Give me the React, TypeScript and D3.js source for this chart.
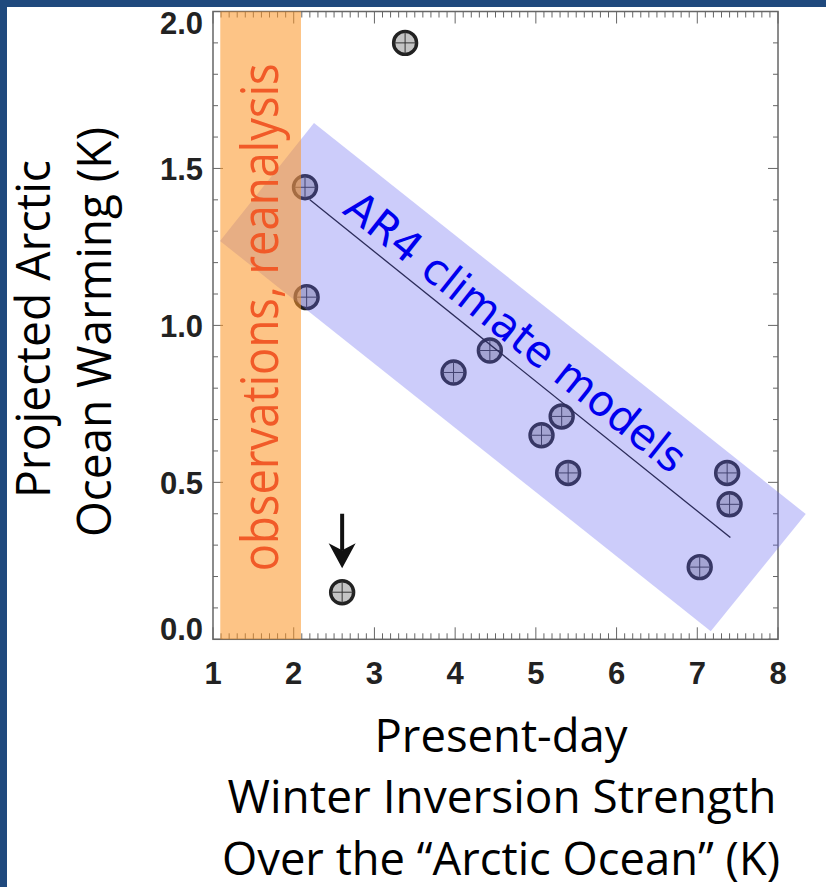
import React from 'react';
import * as d3 from 'd3';

// model points: present-day inversion strength (K) vs projected warming (K)
const inversion = [3.38, 2.14, 2.16, 4.43, 3.98, 5.32, 5.07, 5.40, 7.37, 7.40, 7.03, 2.60];
const warming = [1.90, 1.44, 1.09, 0.92, 0.85, 0.71, 0.65, 0.53, 0.53, 0.43, 0.23, 0.15];

const xTicks = [1, 2, 3, 4, 5, 6, 7, 8];
const yTicks = [0.0, 0.5, 1.0, 1.5, 2.0];

// annotations, in data units
const obsRange = [1.09, 2.09];
const bandX = [2.251, 8.344, 7.167, 1.087];
const bandY = [1.645, 0.399, 0.026, 1.269];
const fitX = [2.20, 7.41];
const fitY = [1.40, 0.324];
const arrowX = 2.60;
const arrowY = [0.40, 0.226];

const W = 826;
const H = 887;
const left = 213, right = 778, top = 11.5, bottom = 639.3;

const sans = '"Open Sans", "Noto Sans", sans-serif';
const tickFont = '"Liberation Sans", Arial, sans-serif';

export default function App() {
  const x = d3.scaleLinear().domain([1, 8]).range([left, right]);
  const y = d3.scaleLinear().domain([0, 2]).range([bottom, top]);

  const xMinor = d3.range(1, 8.001, 0.1);
  const yMinor = d3.range(0, 2.001, 0.1);
  const axisColor = '#666';

  const bandPath = d3.line()(bandX.map((v, i) => [x(v), y(bandY[i])] as [number, number])) + 'Z';

  const angle = (Math.atan2(y(bandY[1]) - y(bandY[0]), x(bandX[1]) - x(bandX[0])) * 180) / Math.PI;

  const ax = x(arrowX);
  const ay0 = y(arrowY[0]);
  const ay1 = y(arrowY[1]);

  return (
    <svg width={W} height={H} style={{ position: 'absolute', left: 0, top: 0, background: '#fff' }}>
      <rect x={0} y={0} width={W} height={7} fill="#1f497d" />
      <rect x={0} y={0} width={7} height={H} fill="#1f497d" />

      {/* frame and ticks */}
      <g stroke={axisColor} strokeWidth={1.5} fill="none">
        <rect x={left} y={top} width={right - left} height={bottom - top} />
        {xMinor.map((t, i) => {
          const major = Math.abs(t - Math.round(t)) < 1e-6;
          const len = major ? 12 : 6;
          return (
            <g key={'xm' + i}>
              <line x1={x(t)} x2={x(t)} y1={bottom} y2={bottom - len} strokeWidth={1} />
              <line x1={x(t)} x2={x(t)} y1={top} y2={top + len} strokeWidth={1} />
            </g>
          );
        })}
        {yMinor.map((t, i) => {
          const major = Math.abs(t * 2 - Math.round(t * 2)) < 1e-6;
          const len = major ? 10 : 5;
          return (
            <g key={'ym' + i}>
              <line x1={left} x2={left + len} y1={y(t)} y2={y(t)} strokeWidth={1} />
              <line x1={right} x2={right - len} y1={y(t)} y2={y(t)} strokeWidth={1} />
            </g>
          );
        })}
      </g>

      {/* tick labels */}
      <g fontFamily={tickFont} fontWeight="bold" fontSize={31} fill="#222">
        {xTicks.map((t) => (
          <text key={'xl' + t} x={x(t)} y={684} textAnchor="middle">{t}</text>
        ))}
        {yTicks.map((t) => {
          const cy = Math.max(top + 11, Math.min(bottom - 10, y(t)));
          return (
            <text key={'yl' + t} x={203} y={cy} dy="0.36em" textAnchor="end">{t.toFixed(1)}</text>
          );
        })}
      </g>

      {/* points */}
      {inversion.map((v, i) => {
        const cx = x(v);
        const cy = y(warming[i]);
        const r = 11.5;
        return (
          <g key={'p' + i}>
            <circle cx={cx} cy={cy} r={r} fill="#c4c4c4" stroke="#222" strokeWidth={3.4} />
            <line x1={cx - r} x2={cx + r} y1={cy} y2={cy} stroke="#333" strokeWidth={1} />
            <line x1={cx} x2={cx} y1={cy - r} y2={cy + r} stroke="#333" strokeWidth={1} />
          </g>
        );
      })}

      {/* fit line */}
      <line x1={x(fitX[0])} y1={y(fitY[0])} x2={x(fitX[1])} y2={y(fitY[1])} stroke="#111" strokeWidth={1.3} />

      {/* model band */}
      <path d={bandPath} fill="rgb(100,100,240)" fillOpacity={0.33} />

      {/* observation band */}
      <rect x={x(obsRange[0])} y={top} width={x(obsRange[1]) - x(obsRange[0])} height={bottom - top}
        fill="rgb(251,150,40)" fillOpacity={0.56} />

      <text x={0} y={0} transform={`translate(${x(1.80)},${y(1.026)}) rotate(-90)`}
        textAnchor="middle" fontFamily={sans} fontSize={52} fill="#f15a28"
        textLength={508} lengthAdjust="spacingAndGlyphs">observations, reanalysis</text>

      <text x={0} y={0} transform={`translate(${x(4.635)},${y(0.942)}) rotate(${angle})`}
        textAnchor="middle" fontFamily='"DejaVu Sans", Verdana, sans-serif' fontSize={43} fill="#0000ee"
        textLength={422} lengthAdjust="spacingAndGlyphs">AR4 climate models</text>

      {/* arrow marking the outlier */}
      <line x1={ax} x2={ax} y1={ay0} y2={ay1 - 18} stroke="#111" strokeWidth={4} />
      <path d={`M${ax - 13.5},${ay1 - 25} L${ax},${ay1 - 18} L${ax + 13.5},${ay1 - 25} L${ax},${ay1} Z`} fill="#111" />

      {/* axis titles */}
      <g fontFamily={sans} fill="#000">
        <text transform="translate(50,329) rotate(-90)" textAnchor="middle" fontSize={48}
          textLength={338} lengthAdjust="spacingAndGlyphs">Projected Arctic</text>
        <text transform="translate(111,332) rotate(-90)" textAnchor="middle" fontSize={48}
          textLength={410} lengthAdjust="spacingAndGlyphs">Ocean Warming (K)</text>
        <text x={501} y={752} textAnchor="middle" fontSize={46}
          textLength={253} lengthAdjust="spacingAndGlyphs">Present-day</text>
        <text x={502} y={813} textAnchor="middle" fontSize={46}
          textLength={549} lengthAdjust="spacingAndGlyphs">Winter Inversion Strength</text>
        <text x={501} y={875} textAnchor="middle" fontSize={46}
          textLength={558} lengthAdjust="spacingAndGlyphs">Over the “Arctic Ocean” (K)</text>
      </g>
    </svg>
  );
}
